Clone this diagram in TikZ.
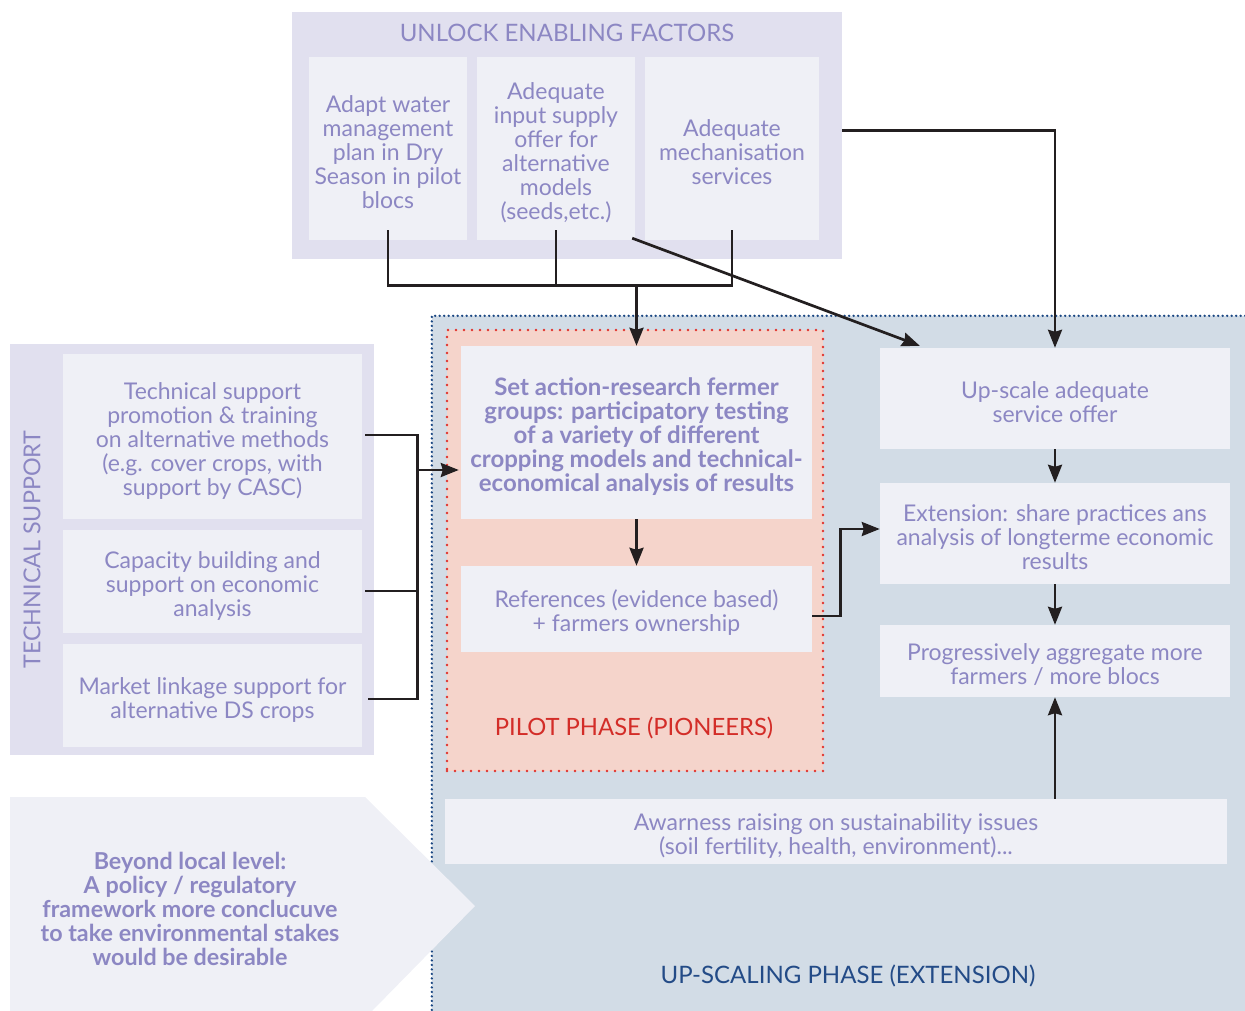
\documentclass[tikz,border=0pt]{standalone}
\usepackage{fontspec}
\setmainfont{Lato}
\usetikzlibrary{arrows.meta,calc}
\definecolor{outerbg}{RGB}{225,224,239}
\definecolor{innerbg}{RGB}{239,240,246}
\definecolor{upfill}{RGB}{210,220,230}
\definecolor{pilotfill}{RGB}{245,212,203}
\definecolor{lav}{RGB}{140,135,195}
\definecolor{redtxt}{RGB}{211,45,40}
\definecolor{bluetxt}{RGB}{35,75,135}
\definecolor{bluedot}{RGB}{25,70,130}
\definecolor{reddot}{RGB}{225,50,45}
\definecolor{ink}{RGB}{35,31,32}
\begin{document}
\begin{tikzpicture}[x=1pt,y=-1pt,
  txt/.style={text=lav, font=\fontsize{23}{24}\selectfont, align=center, inner sep=0pt},
  boxtext/.style={txt, yshift=-4pt},
  boldtext/.style={boxtext, font=\fontsize{24}{24}\selectfont\bfseries},
  panel/.style={fill=outerbg, inner sep=0pt},
  box/.style={fill=innerbg, inner sep=0pt},
  region/.style={inner sep=0pt},
  conn/.style={draw=ink, line width=2.7pt},
  arr/.style={conn, -{Stealth[length=18pt,width=14pt,inset=2pt]}},
]
\useasboundingbox (0,0) rectangle (1245,1011);

% up-scaling phase region
\node[region, fill=upfill, minimum width=813, minimum height=695] (upreg) at (838.5,663.5) {};
\draw[bluedot, line width=2.6pt, line cap=round, dash pattern=on 0pt off 4.5pt]
  (upreg.north east) -- (upreg.north west) -- (upreg.south west);

% pilot phase region
\node[region, fill=pilotfill, draw=reddot, line width=2.9pt, line cap=round,
  dash pattern=on 0pt off 8pt, minimum width=376, minimum height=441] (pilot) at (635,550.5) {};

% enabling factors panel
\node[panel, minimum width=550, minimum height=247] (unlock) at (567,135.5) {};
\node[txt, font=\fontsize{24}{26}\selectfont] (unlocktitle) at (567,33) {UNLOCK ENABLING FACTORS};
\node[box, minimum width=158, minimum height=183,
  label={[boxtext]center:{Adapt water\\management\\plan in Dry\\Season in pilot\\blocs}}] (w1) at (388,148.5) {};
\node[box, minimum width=158, minimum height=183,
  label={[boxtext]center:{Adequate\\input supply\\offer for\\alternative\\models\\(seeds,etc.)}}] (w2) at (556,148.5) {};
\node[box, minimum width=174, minimum height=183,
  label={[boxtext]center:{Adequate\\mechanisation\\services}}] (w3) at (732,148.5) {};

% technical support panel
\node[panel, minimum width=364, minimum height=411] (tech) at (192,549.5) {};
\node[txt, font=\fontsize{23.3}{26}\selectfont, rotate=90] (techtitle) at (32,549.5) {TECHNICAL SUPPORT};
\node[box, minimum width=299, minimum height=165,
  label={[boxtext]center:{Technical support\\promotion \& training\\on alternative methods\\(e.g. cover crops, with\\support by CASC)}}] (ta) at (212.5,436.5) {};
\node[box, minimum width=299, minimum height=103,
  label={[boxtext]center:{Capacity building and\\support on economic\\analysis}}] (tb) at (212.5,581.5) {};
\node[box, minimum width=299, minimum height=103,
  label={[boxtext]center:{Market linkage support for\\alternative DS crops}}] (tc) at (212.5,695.5) {};

% pilot phase boxes
\node[box, minimum width=351, minimum height=173,
  label={[boldtext]center:{Set action-research fermer\\groups: participatory testing\\of a variety of different\\cropping models and technical-\\economical analysis of results}}] (p1) at (636.5,432.5) {};
\node[box, minimum width=351, minimum height=86,
  label={[boxtext]center:{References (evidence based)\\+ farmers ownership}}] (p2) at (636.5,609) {};
\node[txt, text=redtxt, font=\fontsize{23.8}{25}\selectfont] (pilottitle) at (634,728) {PILOT PHASE (PIONEERS)};

% up-scaling boxes
\node[box, minimum width=350, minimum height=101,
  label={[boxtext]center:{Up-scale adequate\\service offer}}] (us) at (1055,398.5) {};
\node[box, minimum width=350, minimum height=101,
  label={[boxtext]center:{Extension: share practices ans\\analysis of longterme economic\\results}}] (ext) at (1055,533.5) {};
\node[box, minimum width=350, minimum height=72,
  label={[boxtext]center:{Progressively aggregate more\\farmers / more blocs}}] (pg) at (1055,661) {};
\node[box, minimum width=782, minimum height=65,
  label={[boxtext]center:{Awarness raising on sustainability issues\\(soil fertility, health, environment)...}}] (aw) at (836,831.5) {};
\node[txt, text=bluetxt, font=\fontsize{24}{25}\selectfont] (uptitle) at (848,976) {UP-SCALING PHASE (EXTENSION)};

% policy arrow shape
\fill[innerbg] (10,797) -- (365,797) -- (475,906) -- (372,1011) -- (10,1011) -- cycle;
\node[txt, font=\fontsize{23.3}{24}\selectfont\bfseries] (beyond) at (190,909)
  {Beyond local level:\\A policy / regulatory\\framework more conclucuve\\to take environmental stakes\\would be desirable};

% connectors: enabling factors
\draw[conn] ($(w1.south)+(0,-10)$) -- ($(w1.south)+(0,45)$) coordinate (b1)
  -- (b1 -| w3.south) coordinate (b3) -- ($(w3.south)+(0,-10)$);
\draw[conn] ($(w2.south)+(0,-10)$) -- (b1 -| w2.south);
\coordinate (jn) at (b1 -| p1.north);
\draw[arr] (jn) -- (p1.north);
\draw[arr] ($(w2.south east)+(-3,-2)$) -- ($(us.north west)+(40,-2)$);
\draw[arr] ($(unlock.east)+(0,-5)$) -| (us.north);

% connectors: technical support
\coordinate (bus) at ($(ta.east)+(55,0)$);
\draw[conn] ($(ta.east)+(3,-1.5)$) -| ($(bus)+(0,262.5)$) -- ($(tc.east)+(6,3.5)$);
\draw[conn] ($(tb.east)+(3,9.5)$) -- ($(tb.east)+(55,9.5)$);
\draw[arr] ($(p1.west)+(-44,37.5)$) -- ($(p1.west)+(-2,37.5)$);

% connectors: phases
\draw[arr] (p1.south) -- (p2.north);
\draw[arr] ($(p2.east)+(0,7)$) -- ++(28,0) |- ($(ext.west)+(0,-4.5)$);
\draw[arr] (us.south) -- (ext.north);
\draw[arr] (ext.south) -- (pg.north);
\draw[arr] (pg.south |- aw.north) -- (pg.south);
\end{tikzpicture}
\end{document}
